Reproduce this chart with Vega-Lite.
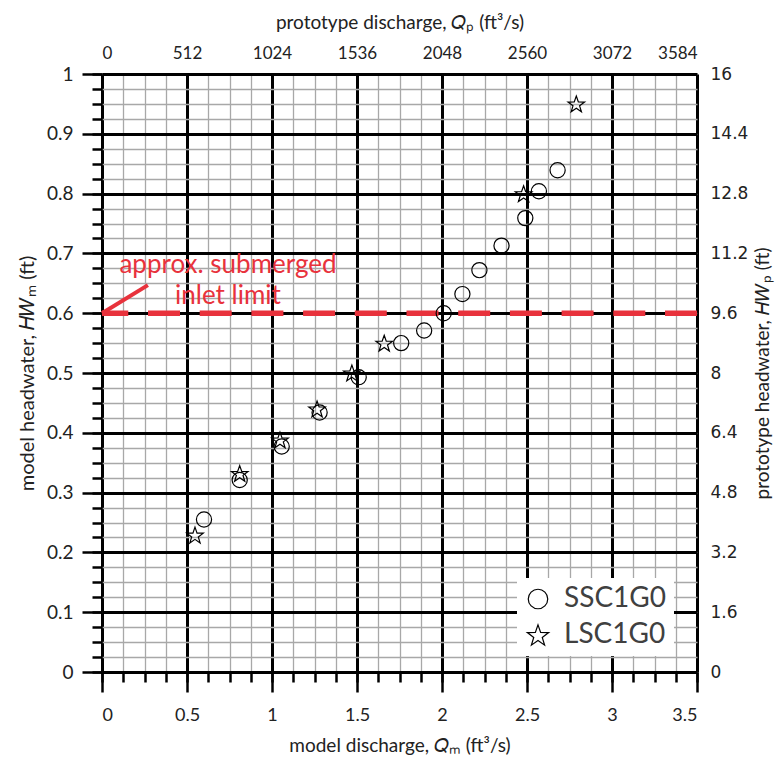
{
  "$schema": "https://vega.github.io/schema/vega-lite/v6.json",
  "width": 595,
  "height": 598,
  "autosize": {"type": "none"},
  "padding": {"left": 102, "top": 74, "right": 83, "bottom": 93},
  "background": "white",
  "config": {
    "view": {"stroke": null},
    "axis": {"labelFont": "Lato", "titleFont": "Lato", "labelColor": "#222", "titleColor": "#222", "titleFontWeight": "normal"}
  },
  "datasets": {
    "pts": [
      {"Qm": 0.6, "HWm": 0.255, "series": "SSC1G0"},
      {"Qm": 0.81, "HWm": 0.321, "series": "SSC1G0"},
      {"Qm": 1.057, "HWm": 0.377, "series": "SSC1G0"},
      {"Qm": 1.28, "HWm": 0.434, "series": "SSC1G0"},
      {"Qm": 1.51, "HWm": 0.493, "series": "SSC1G0"},
      {"Qm": 1.76, "HWm": 0.55, "series": "SSC1G0"},
      {"Qm": 1.895, "HWm": 0.571, "series": "SSC1G0"},
      {"Qm": 2.01, "HWm": 0.6, "series": "SSC1G0"},
      {"Qm": 2.12, "HWm": 0.632, "series": "SSC1G0"},
      {"Qm": 2.22, "HWm": 0.672, "series": "SSC1G0"},
      {"Qm": 2.35, "HWm": 0.713, "series": "SSC1G0"},
      {"Qm": 2.49, "HWm": 0.759, "series": "SSC1G0"},
      {"Qm": 2.57, "HWm": 0.804, "series": "SSC1G0"},
      {"Qm": 2.68, "HWm": 0.839, "series": "SSC1G0"},
      {"Qm": 0.547, "HWm": 0.229, "series": "LSC1G0"},
      {"Qm": 0.81, "HWm": 0.332, "series": "LSC1G0"},
      {"Qm": 1.047, "HWm": 0.388, "series": "LSC1G0"},
      {"Qm": 1.265, "HWm": 0.44, "series": "LSC1G0"},
      {"Qm": 1.47, "HWm": 0.5, "series": "LSC1G0"},
      {"Qm": 1.66, "HWm": 0.55, "series": "LSC1G0"},
      {"Qm": 2.48, "HWm": 0.8, "series": "LSC1G0"},
      {"Qm": 2.79, "HWm": 0.95, "series": "LSC1G0"}
    ]
  },
  "resolve": {"axis": {"x": "independent", "y": "independent"}},
  "layer": [
    {
      "data": {"name": "pts"},
      "mark": {"type": "point", "opacity": 0},
      "encoding": {
        "x": {"field": "Qm", "type": "quantitative", "scale": {"domain": [0, 3.5], "nice": false, "zero": false},
          "axis": {"orient": "bottom", "values": [0,0.125,0.25,0.375,0.5,0.625,0.75,0.875,1,1.125,1.25,1.375,1.5,1.625,1.75,1.875,2,2.125,2.25,2.375,2.5,2.625,2.75,2.875,3,3.125,3.25,3.375,3.5],
            "grid": true, "gridColor": "#a8a8a8", "gridWidth": 1.3, "tickSize": 10, "tickWidth": 2.5, "tickColor": "black", "labels": false, "domain": false, "title": null}},
        "y": {"field": "HWm", "type": "quantitative", "scale": {"domain": [0, 1], "nice": false, "zero": false},
          "axis": {"orient": "left", "values": [0,0.025,0.05,0.075,0.1,0.125,0.15,0.175,0.2,0.225,0.25,0.275,0.3,0.325,0.35,0.375,0.4,0.425,0.45,0.475,0.5,0.525,0.55,0.575,0.6,0.625,0.65,0.675,0.7,0.725,0.75,0.775,0.8,0.825,0.85,0.875,0.9,0.925,0.95,0.975,1],
            "grid": true, "gridColor": "#a8a8a8", "gridWidth": 1.3, "tickSize": 10, "tickWidth": 2.5, "tickColor": "black", "labels": false, "domain": false, "title": null}}
      }
    },
    {
      "data": {"name": "pts"},
      "mark": {"type": "point", "opacity": 0},
      "encoding": {
        "x": {"field": "Qm", "type": "quantitative", "scale": {"domain": [0, 3.5], "nice": false, "zero": false},
          "axis": {"orient": "bottom", "values": [0,0.5,1,1.5,2,2.5,3,3.5], "format": "~g",
            "grid": true, "gridColor": "black", "gridWidth": 3, "tickSize": 20, "tickWidth": 2.5, "tickColor": "black",
            "labelFontSize": 18, "labelPadding": 14, "domain": false,
            "title": "model discharge, 𝑄ₘ  (ft³/s)", "titleFontSize": 19, "titlePadding": 12}},
        "y": {"field": "HWm", "type": "quantitative", "scale": {"domain": [0, 1], "nice": false, "zero": false},
          "axis": {"orient": "left", "values": [0,0.1,0.2,0.3,0.4,0.5,0.6,0.7,0.8,0.9,1], "format": ".1~f",
            "grid": true, "gridColor": "black", "gridWidth": 3, "tickSize": 20, "tickWidth": 2.5, "tickColor": "black",
            "labelFontSize": 19, "labelPadding": 9, "domain": false,
            "title": "model headwater, 𝐻𝑊ₘ (ft)", "titleFontSize": 20, "titlePadding": 9}}
      }
    },
    {
      "data": {"name": "pts"},
      "mark": {"type": "point", "opacity": 0},
      "encoding": {
        "x": {"field": "Qm", "type": "quantitative", "scale": {"domain": [0, 3.5], "nice": false, "zero": false},
          "axis": {"orient": "top", "values": [0,0.5,1,1.5,2,2.5,3,3.5], "labelExpr": "format(datum.value*1024, 'd')",
            "grid": false, "ticks": false, "domain": false, "labelFontSize": 17, "labelPadding": 12,
            "title": "prototype discharge, 𝑄ₚ  (ft³/s)", "titleFontSize": 19, "titlePadding": 12}},
        "y": {"field": "HWm", "type": "quantitative", "scale": {"domain": [0, 1], "nice": false, "zero": false},
          "axis": {"orient": "right", "values": [0,0.1,0.2,0.3,0.4,0.5,0.6,0.7,0.8,0.9,1], "labelExpr": "format(datum.value*16, '.1~f')",
            "grid": false, "ticks": false, "domain": false, "labelFont": "DejaVu Sans", "labelFontSize": 17, "labelPadding": 13,
            "title": "prototype headwater, 𝐻𝑊ₚ (ft)", "titleAngle": 270, "titleFontSize": 19, "titlePadding": 25}}
      }
    },
    {
      "data": {"values": [{"limit": 0.6}]},
      "mark": {"type": "rule", "color": "#e8323c", "strokeWidth": 5.5, "strokeDash": [32, 19.7]},
      "encoding": {
        "y": {"field": "limit", "type": "quantitative", "scale": {"domain": [0, 1], "nice": false, "zero": false}, "axis": null}
      }
    },
    {
      "data": {"values": [{"x0": 0, "y0": 0.6, "x1": 0.27, "y1": 0.647}]},
      "mark": {"type": "rule", "color": "#e8323c", "strokeWidth": 4},
      "encoding": {
        "x": {"field": "x0", "type": "quantitative", "scale": {"domain": [0, 3.5], "nice": false, "zero": false}, "axis": null},
        "y": {"field": "y0", "type": "quantitative", "scale": {"domain": [0, 1], "nice": false, "zero": false}, "axis": null},
        "x2": {"field": "x1"},
        "y2": {"field": "y1"}
      }
    },
    {
      "data": {"values": [
        {"label": "approx. submerged", "tx": 0.741, "ty": 0.667},
        {"label": "inlet limit", "tx": 0.741, "ty": 0.615}
      ]},
      "mark": {"type": "text", "color": "#e8323c", "font": "Lato", "fontSize": 26, "align": "center", "baseline": "alphabetic"},
      "encoding": {
        "x": {"field": "tx", "type": "quantitative", "scale": {"domain": [0, 3.5], "nice": false, "zero": false}, "axis": null},
        "y": {"field": "ty", "type": "quantitative", "scale": {"domain": [0, 1], "nice": false, "zero": false}, "axis": null},
        "text": {"field": "label"}
      }
    },
    {
      "data": {"name": "pts"},
      "mark": {"type": "point", "filled": false, "stroke": "black", "strokeWidth": 1.2, "size": 230, "opacity": 1},
      "encoding": {
        "x": {"field": "Qm", "type": "quantitative", "scale": {"domain": [0, 3.5], "nice": false, "zero": false}, "axis": null},
        "y": {"field": "HWm", "type": "quantitative", "scale": {"domain": [0, 1], "nice": false, "zero": false}, "axis": null},
        "shape": {"field": "series", "type": "nominal",
          "scale": {"domain": ["SSC1G0", "LSC1G0"], "range": ["circle", "M0,-1.04L0.27,-0.26L1.094,-0.246L0.437,0.252L0.676,1.039L0,0.569L-0.676,1.039L-0.437,0.252L-1.094,-0.246L-0.27,-0.26Z"]},
          "legend": {"orient": "none", "legendX": 415, "legendY": 504, "title": null, "fillColor": "white", "padding": 7,
            "labelFont": "Lato", "labelFontSize": 28, "labelColor": "#404040", "symbolSize": 380, "symbolStrokeColor": "black",
            "symbolStrokeWidth": 1.2, "symbolFillColor": "transparent", "rowPadding": 8, "labelOffset": 12}}
      }
    }
  ]
}
